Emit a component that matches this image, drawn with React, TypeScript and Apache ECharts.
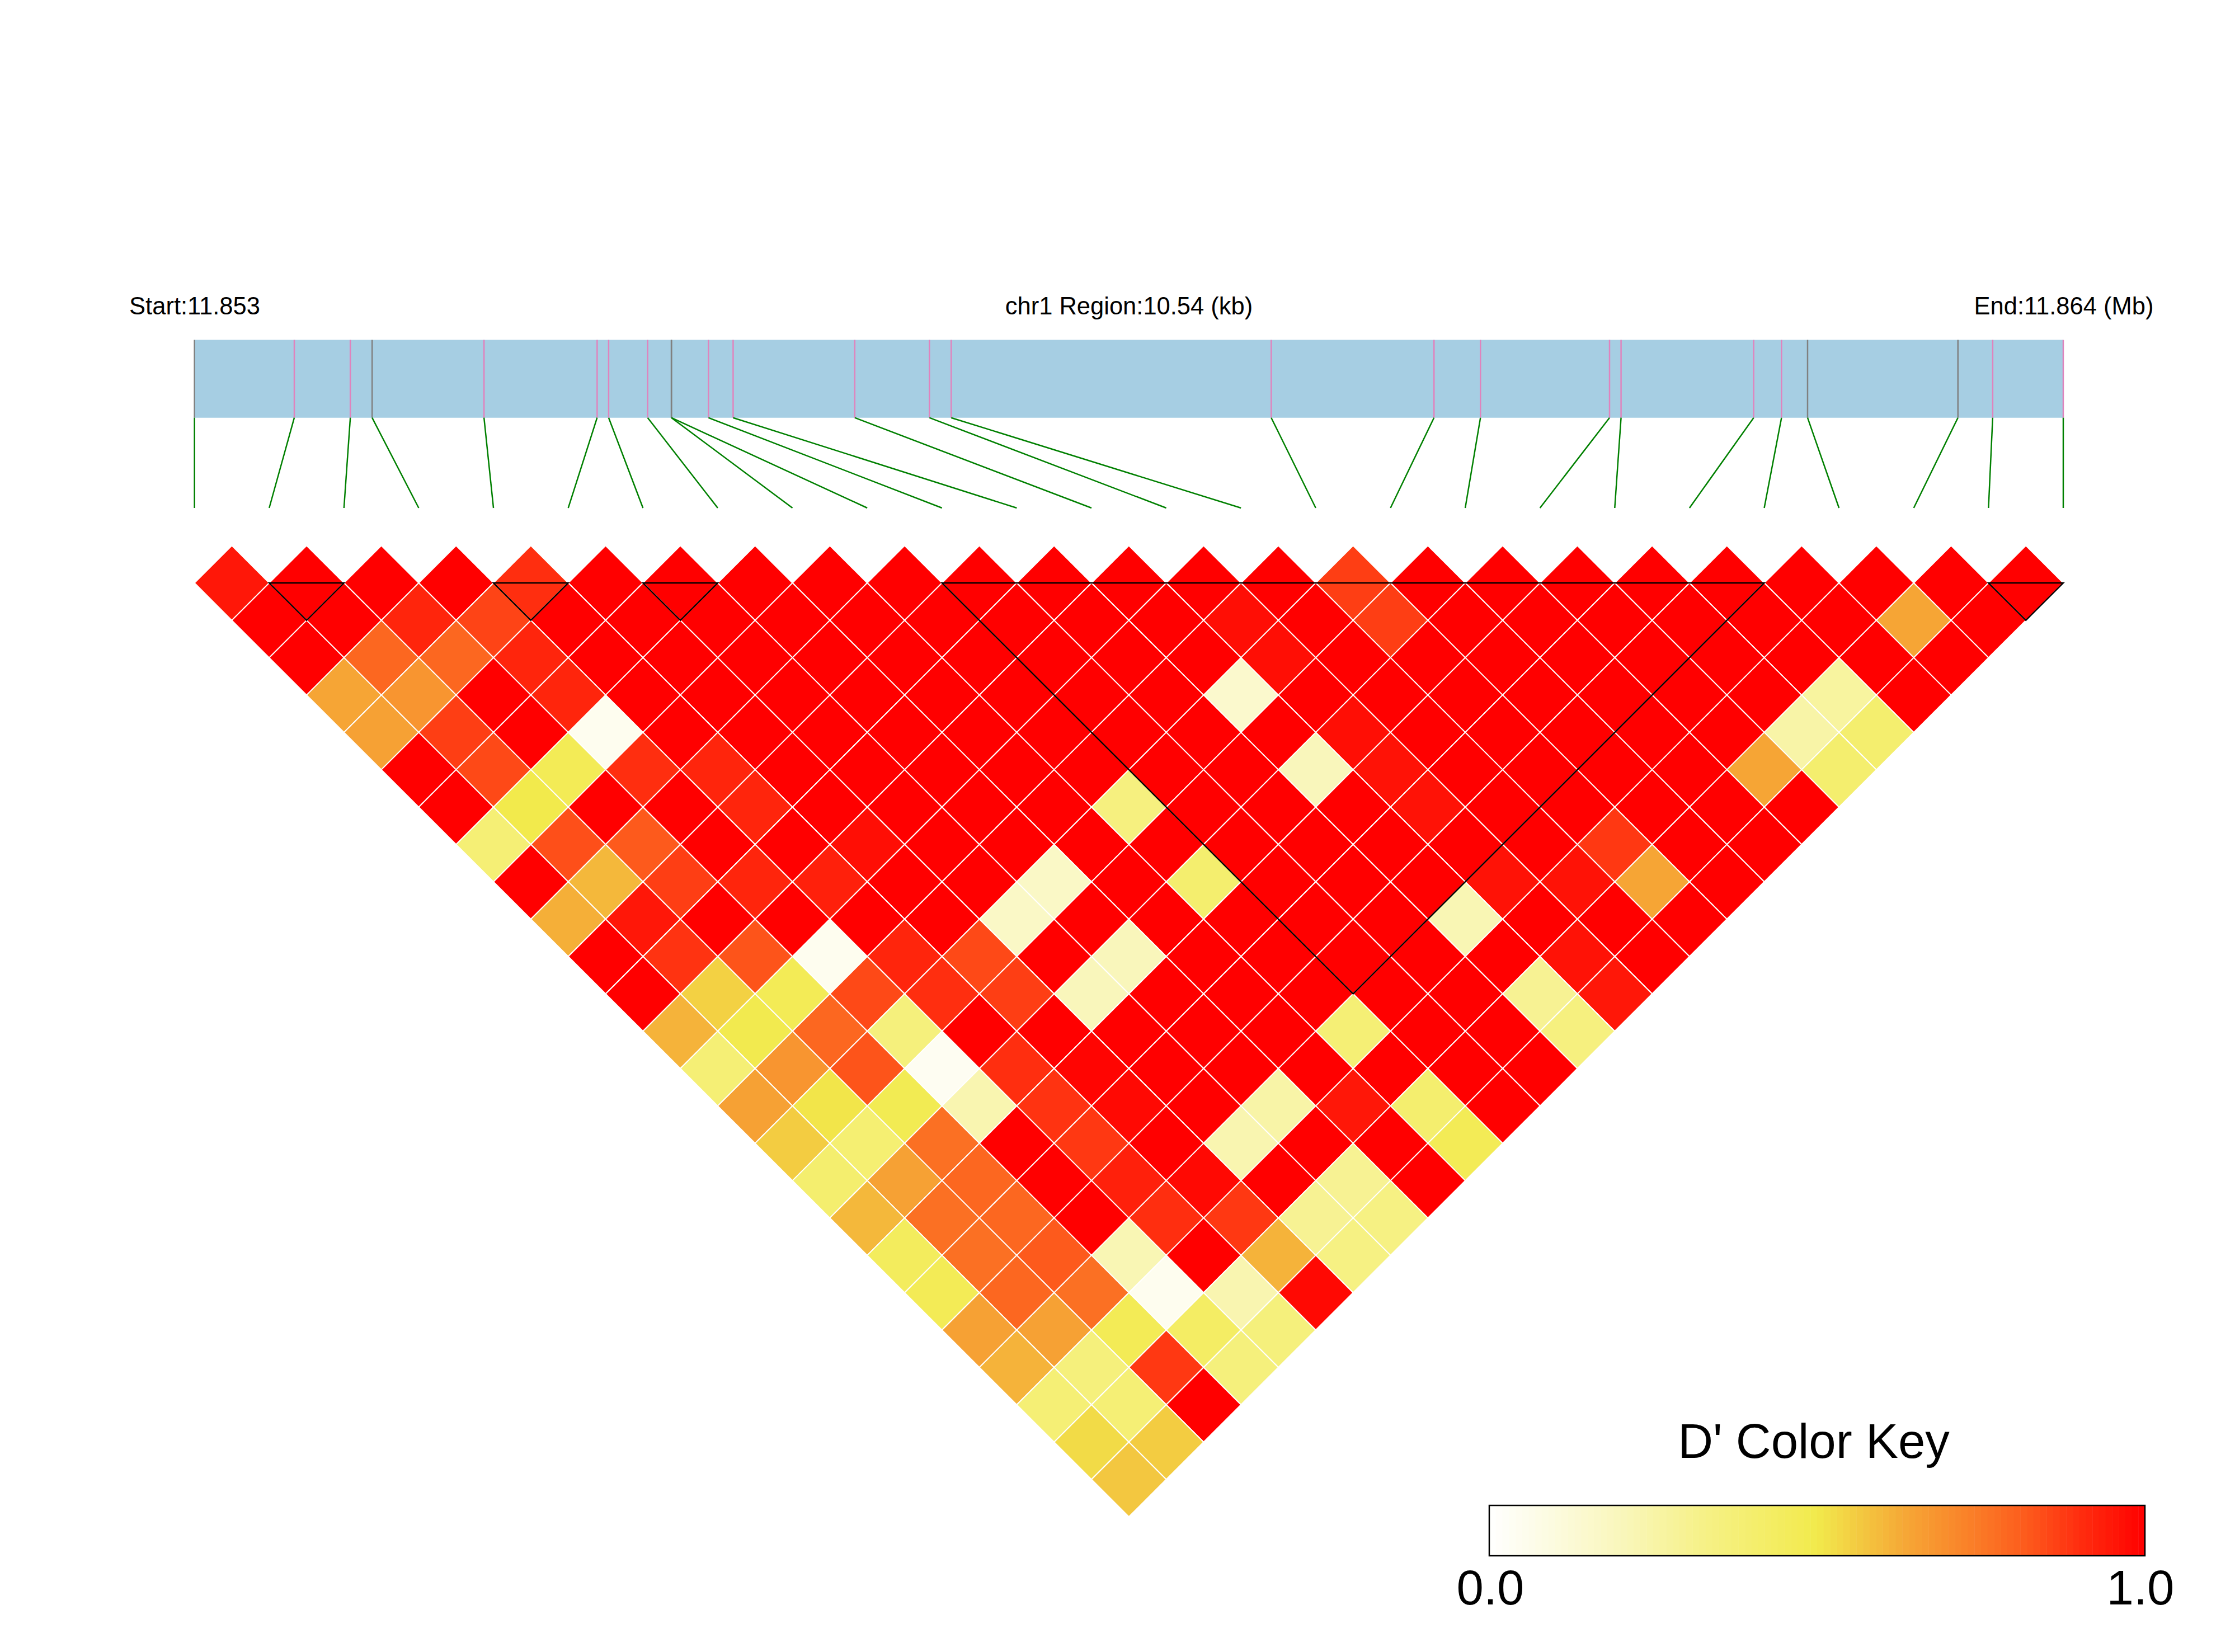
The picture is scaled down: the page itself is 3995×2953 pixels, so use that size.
import React, { useEffect, useRef } from "react";
import * as echarts from "echarts";

const startLabel = "Start:11.853";
const regionLabel = "chr1 Region:10.54 (kb)";
const endLabel = "End:11.864 (Mb)";
const keyTitle = "D' Color Key";
const keyLabels = ["0.0", "1.0"];
const regionKb = 10.54;

// SNP offsets from region start (kb)
const snpKb = [0, 0.563, 0.879, 1.002, 1.633, 2.271, 2.336, 2.556, 2.69, 2.69, 2.899, 3.038, 3.724, 4.145, 4.268, 6.073, 6.991, 7.253, 7.981, 8.046, 8.794, 8.951, 9.098, 9.946, 10.142, 10.54];
// 0 = pink tick, 1 = grey tick
const snpGrey = [1, 0, 0, 1, 0, 0, 0, 0, 1, 1, 0, 0, 0, 0, 0, 0, 0, 0, 0, 0, 0, 0, 1, 1, 0, 0];
// Haplotype blocks: first and last SNP index
const blocks = [[1, 2], [4, 5], [6, 7], [10, 21], [24, 25]];

// D' by SNP distance: ldRows[d - 1][i] is the value for the pair (i, i + d)
const ldRows = [
  [.95, 1, 1, 1, .9, 1, 1, 1, 1, 1, 1, 1, 1, 1, 1, .87, 1, 1, 1, 1, 1, 1, 1, 1, 1],
  [1, 1, .92, .86, 1, 1, 1, 1, 1, 1, 1, 1, 1, .97, 1, .87, 1, 1, 1, 1, 1, 1, .64, 1],
  [1, .79, .79, .92, 1, 1, 1, 1, 1, 1, 1, 1, 1, .97, 1, 1, 1, 1, 1, 1, 1, 1, 1],
  [.64, .68, 1, .92, 1, 1, 1, 1, 1, 1, 1, 1, .15, 1, 1, 1, 1, 1, 1, 1, .27, 1],
  [.65, .87, 1, .05, 1, 1, 1, 1, 1, 1, 1, 1, 1, .97, 1, 1, 1, 1, 1, .25, .4],
  [1, .85, .47, .9, .92, 1, 1, 1, 1, 1, 1, 1, .2, .96, 1, 1, 1, 1, .64, .4],
  [1, .5, 1, 1, .92, 1, 1, 1, 1, .35, 1, 1, 1, .96, 1, 1, 1, 1, 1],
  [.38, .84, .82, 1, 1, .97, 1, 1, 1, 1, 1, 1, 1, 1, 1, .88, 1, 1],
  [1, .6, .87, .92, .93, 1, 1, .17, 1, .4, 1, 1, 1, .96, .96, .64, 1],
  [.62, .95, 1, 1, 1, 1, .17, 1, 1, 1, 1, 1, .22, 1, 1, 1],
  [1, .89, .83, .05, .92, .85, 1, .2, 1, 1, 1, 1, 1, .96, 1],
  [1, .55, .47, .85, .9, .87, .2, 1, 1, 1, 1, 1, .3, .95],
  [.61, .49, .79, .36, 1, 1, 1, 1, 1, .38, 1, 1, .35],
  [.38, .68, .83, .04, .9, .99, 1, 1, 1, 1, 1, 1],
  [.65, .51, .48, .23, .89, .98, 1, .25, .95, .4, 1],
  [.56, .39, .77, 1, .88, 1, .23, 1, 1, .47],
  [.4, .65, .79, 1, .93, .98, 1, .3, 1],
  [.6, .77, .79, 1, .9, .88, .3, .34],
  [.45, .77, .82, .22, 1, .61, .34],
  [.47, .79, .77, .05, .23, .98],
  [.65, .65, .47, .43, .36],
  [.61, .36, .88, .36],
  [.38, .38, 1],
  [.53, .56],
  [.57],
];

const rampStops: [number, number[]][] = [
  [0, [255, 255, 255]], [0.1, [252, 251, 222]], [0.21, [249, 246, 184]], [0.33, [246, 241, 134]],
  [0.5, [242, 234, 76]], [0.567, [243, 200, 64]], [0.64, [246, 165, 53]], [0.735, [250, 127, 40]],
  [0.82, [253, 90, 28]], [0.895, [255, 48, 16]], [1, [255, 0, 0]],
];
function ramp(v: number) {
  for (let i = 1; i < rampStops.length; i++) {
    const [b, cb] = rampStops[i];
    if (v <= b) {
      const [a, ca] = rampStops[i - 1];
      const t = (v - a) / (b - a);
      const c = ca.map((x, k) => Math.round(x + (cb[k] - x) * t));
      return `rgb(${c[0]},${c[1]},${c[2]})`;
    }
  }
  return "rgb(255,0,0)";
}

const keySteps = Array.from({ length: 100 }, (_, i) => i);

const LEFT = 347.6;
const WIDTH = 3340.4;
const SNP_COUNT = snpKb.length;
const BAR_FRACTION = 0.463;
const FONT = '"Liberation Sans", Arial, sans-serif';

function buildOption() {
  const cells: number[][] = [];
  ldRows.forEach((row, r) =>
    row.forEach((v, i) => cells.push([i + (r + 1) / 2, r, v]))
  );
  const hidden = { show: false };
  const pane = (gridIndex: number, min: number, max: number) => ({ type: "value", gridIndex, min, max, ...hidden });
  const text = (x: number, y: number, t: string, size: number) => ({
    type: "text", x, y, silent: true,
    style: { text: t, fontSize: size, fontFamily: FONT, fill: "#000", textAlign: "center", textVerticalAlign: "bottom" },
  });
  return {
    animation: false,
    backgroundColor: "#fff",
    grid: [
      { left: LEFT, width: WIDTH, top: 975.3, height: 1736 },
      { left: LEFT, width: WIDTH, top: 607.6, height: 300.4 },
      { left: 2662, width: 1172, top: 2691, height: 90 },
    ],
    xAxis: [pane(0, 0, SNP_COUNT - 1), pane(1, 0, regionKb), pane(2, 0, 1)],
    yAxis: [
      { ...pane(0, -1, 25), inverse: true },
      { ...pane(1, 0, 1), inverse: true },
      pane(2, 0, 1),
    ],
    series: [
      {
        type: "custom", xAxisIndex: 0, yAxisIndex: 0, silent: true, z: 2,
        data: cells, encode: { x: 0, y: 1 },
        renderItem: (_: any, api: any) => {
          const x = api.value(0), r = api.value(1);
          return {
            type: "polygon",
            shape: { points: [api.coord([x, r - 1]), api.coord([x + 0.5, r]), api.coord([x, r + 1]), api.coord([x - 0.5, r])] },
            style: { fill: ramp(api.value(2)), stroke: "#fff", lineWidth: 2 },
          };
        },
      },
      {
        type: "custom", xAxisIndex: 0, yAxisIndex: 0, silent: true, z: 3,
        data: blocks, encode: { x: [0, 1] },
        renderItem: (_: any, api: any) => {
          const a = api.value(0), b = api.value(1);
          const span = b - a;
          return {
            type: "polygon",
            shape: { points: [api.coord([a, 0]), api.coord([b, 0]), api.coord([(a + b) / 2, span])] },
            style: { fill: "none", stroke: "#000", lineWidth: 2.5 },
          };
        },
      },
      {
        type: "custom", xAxisIndex: 1, yAxisIndex: 1, silent: true, z: 2,
        data: [[0, regionKb]], encode: { x: [0, 1] },
        renderItem: (_: any, api: any) => {
          const p0 = api.coord([api.value(0), 0]);
          const p1 = api.coord([api.value(1), BAR_FRACTION]);
          return { type: "rect", shape: { x: p0[0], y: p0[1], width: p1[0] - p0[0], height: p1[1] - p0[1] }, style: { fill: "#A6CEE3" } };
        },
      },
      {
        type: "custom", xAxisIndex: 1, yAxisIndex: 1, silent: true, z: 3,
        data: snpKb.map((kb, i) => [kb, i, snpGrey[i]]), encode: { x: 0 },
        renderItem: (_: any, api: any) => {
          const kb = api.value(0), idx = api.value(1);
          const top = api.coord([kb, 0]);
          const mid = api.coord([kb, BAR_FRACTION]);
          const end = api.coord([(idx / (SNP_COUNT - 1)) * regionKb, 1]);
          return {
            type: "group",
            children: [
              { type: "line", shape: { x1: top[0], y1: top[1], x2: mid[0], y2: mid[1] }, style: { stroke: api.value(2) ? "#808080" : "#E083BD", lineWidth: 2.5 } },
              { type: "line", shape: { x1: mid[0], y1: mid[1], x2: end[0], y2: end[1] }, style: { stroke: "#008000", lineWidth: 2.5 } },
            ],
          };
        },
      },
      {
        type: "custom", xAxisIndex: 2, yAxisIndex: 2, silent: true, z: 2,
        data: keySteps.map((s) => [s]), encode: { x: 0 },
        renderItem: (_: any, api: any) => {
          const s = api.value(0);
          const a = api.coord([s / keySteps.length, 1]);
          const b = api.coord([(s + 1) / keySteps.length, 0]);
          return { type: "rect", shape: { x: a[0], y: a[1], width: b[0] - a[0] + 0.5, height: b[1] - a[1] }, style: { fill: ramp((s + 0.5) / keySteps.length) } };
        },
      },
      {
        type: "custom", xAxisIndex: 2, yAxisIndex: 2, silent: true, z: 3,
        data: [[0, 1]], encode: { x: [0, 1] },
        renderItem: (_: any, api: any) => {
          const a = api.coord([api.value(0), 1]);
          const b = api.coord([api.value(1), 0]);
          return { type: "rect", shape: { x: a[0], y: a[1], width: b[0] - a[0], height: b[1] - a[1] }, style: { fill: "none", stroke: "#000", lineWidth: 2.5 } };
        },
      },
    ],
    graphic: [
      text(348, 569, startLabel, 43.5),
      text(2018, 569, regionLabel, 43.5),
      text(3689, 569, endLabel, 43.5),
      text(3242, 2619, keyTitle, 87),
      text(2664, 2881, keyLabels[0], 87),
      text(3826, 2881, keyLabels[1], 87),
    ],
  };
}

export default function App() {
  const ref = useRef<HTMLDivElement>(null);
  useEffect(() => {
    document.body.style.margin = "0";
    const chart = echarts.init(ref.current!, undefined, { renderer: "svg" });
    chart.setOption(buildOption() as any);
    return () => chart.dispose();
  }, []);
  return <div ref={ref} style={{ width: 3995, height: 2953 }} />;
}
